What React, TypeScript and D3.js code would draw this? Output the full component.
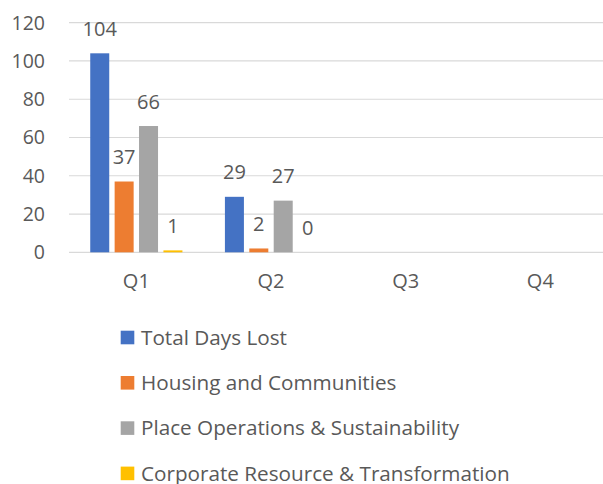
import React from "react";
import * as d3 from "d3";

const categories = ["Q1", "Q2", "Q3", "Q4"];
const seriesNames = [
  "Total Days Lost",
  "Housing and Communities",
  "Place Operations & Sustainability",
  "Corporate Resource & Transformation",
];
const totalDaysLost: (number | null)[] = [104, 29, null, null];
const housing: (number | null)[] = [37, 2, null, null];
const placeOps: (number | null)[] = [66, 27, null, null];
const corporate: (number | null)[] = [1, 0, null, null];
const yTicks = [0, 20, 40, 60, 80, 100, 120];
const colors = ["#4472C4", "#ED7D31", "#A5A5A5", "#FFC000"];

const W = 603;
const H = 484;
const FONT = "'Open Sans', sans-serif";
const TEXT = "#595959";

export default function App() {
  const seriesValues = [totalDaysLost, housing, placeOps, corporate];
  const y = d3.scaleLinear().domain([0, 120]).range([252.3, 22.7]);
  const x0 = d3.scaleBand<string>().domain(categories).range([69, 607.7]).padding(0);
  const bw = x0.bandwidth();
  const groupW = 92.2;
  const x1 = d3
    .scaleBand<string>()
    .domain(seriesNames)
    .range([(bw - groupW) / 2, (bw + groupW) / 2])
    .paddingInner(0.221)
    .paddingOuter(0);

  return (
    <svg
      width={W}
      height={H}
      style={{ position: "absolute", left: 0, top: 0, background: "#fff" }}
      fontFamily={FONT}
    >
      {yTicks.map((t) => (
        <g key={t}>
          <line x1={69} x2={603} y1={y(t)} y2={y(t)} stroke="#D9D9D9" strokeWidth={1.2} />
          <text x={45} y={y(t)} dy="0.35em" textAnchor="end" fontSize={19.5} fill={TEXT}>
            {t}
          </text>
        </g>
      ))}
      {categories.map((c, ci) => (
        <g key={c} transform={`translate(${x0(c)},0)`}>
          {seriesNames.map((s, si) => {
            const v = seriesValues[si][ci];
            if (v === null || v === undefined) return null;
            const bx = x1(s)!;
            const top = y(v);
            return (
              <g key={s}>
                <rect
                  x={bx}
                  y={top}
                  width={x1.bandwidth()}
                  height={Math.max(y(0) - top, 0)}
                  fill={colors[si]}
                />
                <text
                  x={bx + x1.bandwidth() / 2}
                  y={top - 17.5}
                  textAnchor="middle"
                  fontSize={20}
                  fill={TEXT}
                >
                  {v}
                </text>
              </g>
            );
          })}
          <text x={bw / 2} y={287.5} textAnchor="middle" fontSize={20} fill={TEXT}>
            {c}
          </text>
        </g>
      ))}
      {seriesNames.map((s, i) => {
        const cy = 337.5 + i * 45.3;
        return (
          <g key={s}>
            <rect x={120.7} y={cy - 6.8} width={13.6} height={13.6} fill={colors[i]} />
            <text x={141} y={cy} dy="0.35em" fontSize={20.7} fill={TEXT}>
              {s}
            </text>
          </g>
        );
      })}
    </svg>
  );
}
